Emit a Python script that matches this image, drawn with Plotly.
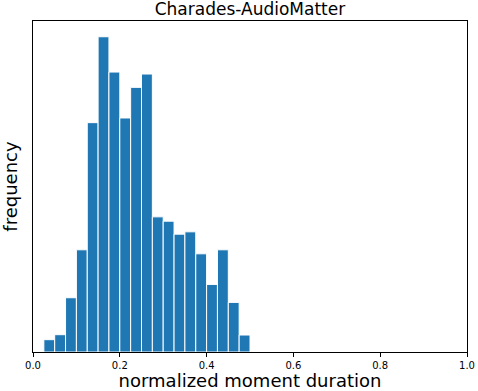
import plotly.graph_objects as go

# bin centres of the normalized moment duration histogram (bin width 0.025)
bin_centers = [0.0375 + 0.025 * i for i in range(19)]
# relative frequency
frequency = [37, 52, 163, 307, 689, 947, 841, 703, 795, 835,
             406, 393, 354, 361, 295, 203, 307, 149, 51]
x_ticks = [0.0, 0.2, 0.4, 0.6, 0.8, 1.0]
x_tick_labels = ["0.0", "0.2", "0.4", "0.6", "0.8", "1.0"]

fig = go.Figure(
    go.Bar(
        x=bin_centers,
        y=frequency,
        width=0.025,
        marker=dict(color="#1f77b4", line=dict(color="white", width=1)),
    )
)

fig.update_layout(
    width=478,
    height=391,
    margin=dict(l=33, r=11, t=21, b=39),
    plot_bgcolor="white",
    paper_bgcolor="white",
    font=dict(family="DejaVu Sans", color="black"),
    showlegend=False,
    title=dict(text="Charades-AudioMatter", x=0.523, xanchor="center",
               y=0.993, yanchor="top", font=dict(size=17)),
)
fig.update_xaxes(
    range=[0, 1],
    tickvals=x_ticks,
    ticktext=x_tick_labels,
    ticks="outside",
    ticklen=4,
    tickcolor="black",
    tickfont=dict(size=10),
    showline=True,
    linecolor="black",
    linewidth=1,
    mirror=True,
    showgrid=False,
    zeroline=False,
    automargin=False,
    title=dict(text="normalized moment duration", font=dict(size=18)),
)
fig.update_yaxes(
    range=[0, max(frequency) * 1.05],
    showticklabels=False,
    ticks="",
    showline=True,
    linecolor="black",
    linewidth=1,
    mirror=True,
    showgrid=False,
    zeroline=False,
    automargin=False,
    title=dict(text="frequency", font=dict(size=18)),
)

# drop the browser's default body margin so the figure fills the window
fig.write_html(
    "out.html",
    config={"displayModeBar": False},
    post_script="document.body.style.margin='0';",
)
